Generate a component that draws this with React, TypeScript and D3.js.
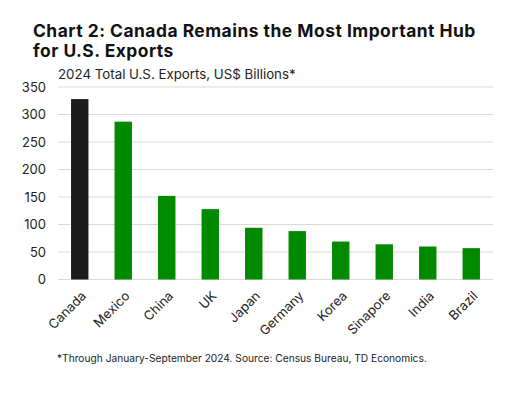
import React from "react";
import * as d3 from "d3";

const countries = ["Canada", "Mexico", "China", "UK", "Japan", "Germany", "Korea", "Sinapore", "India", "Brazil"];
const exportsBn = [328, 287, 152, 128, 94, 88, 69, 64, 60, 57];
const yTicks = [0, 50, 100, 150, 200, 250, 300, 350];

const W = 515;
const H = 396;
const margin = { left: 58, right: 22, top: 87, bottom: 116 };
const font = "Inter, 'Noto Sans', sans-serif";

export default function App() {
	const x = d3
		.scaleBand<string>()
		.domain(countries)
		.range([margin.left, W - margin.right])
		.paddingInner(0.6)
		.paddingOuter(0.3);
	const y = d3
		.scaleLinear()
		.domain([0, 350])
		.range([H - margin.bottom - 0.5, margin.top]);

	return (
		<svg width={W} height={H} style={{ position: "absolute", left: 0, top: 0, background: "#fff" }} fontFamily={font}>
			<text x={33} y={37} fontSize={17.4} fontWeight={700} fill="#111" letterSpacing={0.5}>
				Chart 2: Canada Remains the Most Important Hub
			</text>
			<text x={33} y={57} fontSize={17.4} fontWeight={700} fill="#111" letterSpacing={0.5}>
				for U.S. Exports
			</text>
			<text x={58} y={79} fontSize={13.3} fill="#222">
				2024 Total U.S. Exports, US$ Billions*
			</text>

			{yTicks.map((t) => (
				<g key={t}>
					<line x1={margin.left} x2={W - margin.right} y1={y(t)} y2={y(t)} stroke="#d9d9d9" strokeWidth={1} />
					<text x={46} y={y(t)} dy="0.35em" textAnchor="end" fontSize={13} fill="#222">
						{t}
					</text>
				</g>
			))}

			{countries.map((c, i) => (
				<rect
					key={c}
					x={x(c)}
					y={y(exportsBn[i])}
					width={x.bandwidth()}
					height={y(0) - y(exportsBn[i])}
					fill={i === 0 ? "#1c1c1c" : "#008a00"}
				/>
			))}

			{countries.map((c) => {
				const cx = (x(c) ?? 0) + x.bandwidth() / 2 + 4;
				const cy = y(0) + 14;
				return (
					<text
						key={c}
						transform={`translate(${cx},${cy}) rotate(-45)`}
						textAnchor="end"
						dy="0.35em"
						fontSize={13}
						fill="#222"
					>
						{c}
					</text>
				);
			})}

			<text x={57} y={362} fontSize={10.2} fill="#222">
				*Through January-September 2024. Source: Census Bureau, TD Economics.
			</text>
		</svg>
	);
}
